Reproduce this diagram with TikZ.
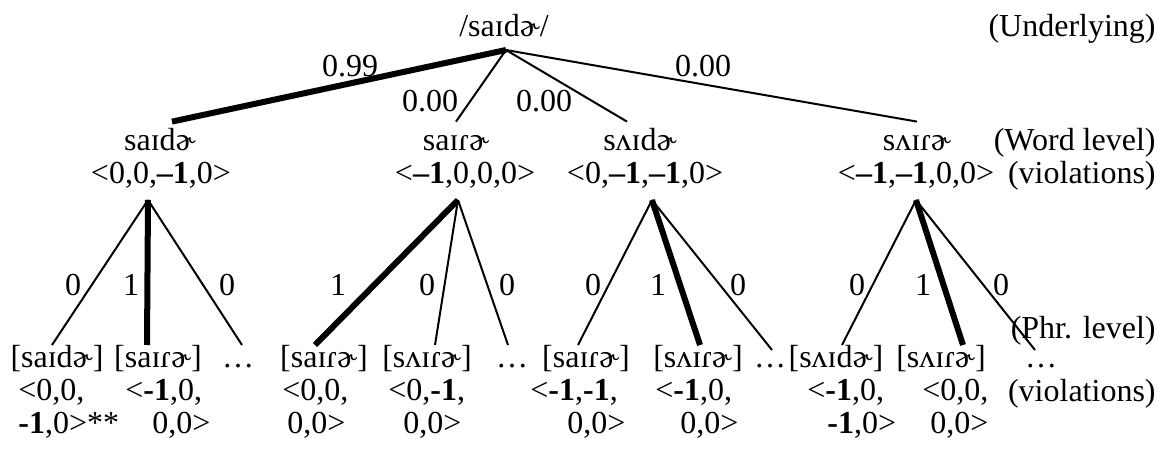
\documentclass[tikz,border=0pt]{standalone}
\usepackage{fontspec}
\setmainfont{Liberation Serif}
\usetikzlibrary{positioning}

\begin{document}
\begin{tikzpicture}[
    x=0.5pt, y=-0.5pt,
    every node/.style={font=\fontsize{16}{16.5}\selectfont, inner sep=0pt},
    form/.style={anchor=base},
    word/.style={anchor=base, text height=11pt, inner ysep=3pt},
    tag/.style={anchor=base east},
    cell/.style={anchor=north west, align=left},
    weight/.style={anchor=base},
    branch/.style={line width=1pt},
    winner/.style={line width=3pt}
]
\useasboundingbox (0,0) rectangle (1158,451);

% underlying form
\node[form] (ur) at (504,36) {/saɪdɚ/};
\node[tag] (tagur) at (1156,36) {(Underlying)};
\coordinate (top) at (506,50);

% word level
\node[word] (w1) at (160,150) {saɪdɚ};
\node[word] (w2) at (456,150) {saɪɾɚ};
\node[word] (w3) at (640,150) {sʌɪdɚ};
\node[word] (w4) at (917,150) {sʌɪɾɚ};
\node[tag] (tagw) at (1156,150) {(Word level)};

\node[form] (v1) at (161,183) {<0,0,\textbf{–1},0>};
\node[form] (v2) at (465,183) {<\textbf{–1},0,0,0>};
\node[form] (v3) at (645,183) {<0,\textbf{–1},\textbf{–1},0>};
\node[form] (v4) at (916,183) {<\textbf{–1},\textbf{–1},0,0>};
\node[tag] (tagv) at (1156,183) {(violations)};

\node[weight] (p1) at (350,76) {0.99};
\node[weight] (p2) at (430,111) {0.00};
\node[weight] (p3) at (544,111) {0.00};
\node[weight] (p4) at (703,76) {0.00};

\draw[winner] (top) -- ([xshift=6pt]w1.north);
\draw[branch] (top) -- (w2.north);
\draw[branch] (top) -- ([xshift=-6.5pt]w3.north);
\draw[branch] (top) -- (w4.north);

% phrase level
\coordinate (a1) at (148,200);
\coordinate (a2) at (458,200);
\coordinate (a3) at (652,200);
\coordinate (a4) at (916,200);

\coordinate (e11) at (52,345);
\coordinate (e12) at (147,345);
\coordinate (e13) at (242,345);
\coordinate (e21) at (315,345);
\coordinate (e22) at (435,345);
\coordinate (e23) at (508,345);
\coordinate (e31) at (578,345);
\coordinate (e32) at (700,345);
\coordinate (e33) at (772,350);
\coordinate (e41) at (842,345);
\coordinate (e42) at (963,345);
\coordinate (e43) at (1035,350);

\node[weight] (b11) at (73,295) {0};
\node[weight] (b12) at (131,295) {1};
\node[weight] (b13) at (227,295) {0};
\node[weight] (b21) at (338,295) {1};
\node[weight] (b22) at (427,295) {0};
\node[weight] (b23) at (507,295) {0};
\node[weight] (b31) at (593,295) {0};
\node[weight] (b32) at (658,295) {1};
\node[weight] (b33) at (738,295) {0};
\node[weight] (b41) at (857,295) {0};
\node[weight] (b42) at (923,295) {1};
\node[weight] (b43) at (1001,295) {0};

\draw[branch] (a1) -- (e11);
\draw[winner] (a1) -- (e12);
\draw[branch] (a1) -- (e13);
\draw[winner] (a2) -- (e21);
\draw[branch] (a2) -- (e22);
\draw[branch] (a2) -- (e23);
\draw[branch] (a3) -- (e31);
\draw[winner] (a3) -- (e32);
\draw[branch] (a3) -- (e33);
\draw[branch] (a4) -- (e41);
\draw[winner] (a4) -- (e42);
\draw[branch] (a4) -- (e43);

\node[tag] (tagp) at (1156,338) {(Phr. level)};

\node[form] (l11) at (57,367) {[saɪdɚ]};
\node[form] (l12) at (158,367) {[saɪɾɚ]};
\node[form] (l13) at (238,367) {…};
\node[form] (l21) at (324,367) {[saɪɾɚ]};
\node[form] (l22) at (427,367) {[sʌɪɾɚ]};
\node[form] (l23) at (512,367) {…};
\node[form] (l31) at (586,367) {[saɪɾɚ]};
\node[form] (l32) at (698,367) {[sʌɪɾɚ]};
\node[form] (l33) at (770,367) {…};
\node[form] (l41) at (836,367) {[sʌɪdɚ]};
\node[form] (l42) at (941,367) {[sʌɪɾɚ]};
\node[form] (l43) at (1041,367) {…};

\node[cell] (c11) at (18,379) {<0,0,\\\textbf{-1},0>**};
\node[cell] (c12) at (125,379) {<\textbf{-1},0,\\\hspace*{13.5pt}0,0>};
\node[cell] (c21) at (282,379) {<0,0,\\\hspace*{2.5pt}0,0>};
\node[cell] (c22) at (388,379) {<0,\textbf{-1},\\\hspace*{7.5pt}0,0>};
\node[cell] (c31) at (530,379) {<\textbf{-1},\textbf{-1},\\\hspace*{18.5pt}0,0>};
\node[cell] (c32) at (655,379) {<\textbf{-1},0,\\\hspace*{12.5pt}0,0>};
\node[cell] (c41) at (807,379) {<\textbf{-1},0,\\\hspace*{10pt}\textbf{-1},0>};
\node[cell] (c42) at (922,379) {<0,0,\\\hspace*{4pt}0,0>};
\node[tag] (tagc) at (1156,401) {(violations)};
\end{tikzpicture}
\end{document}
